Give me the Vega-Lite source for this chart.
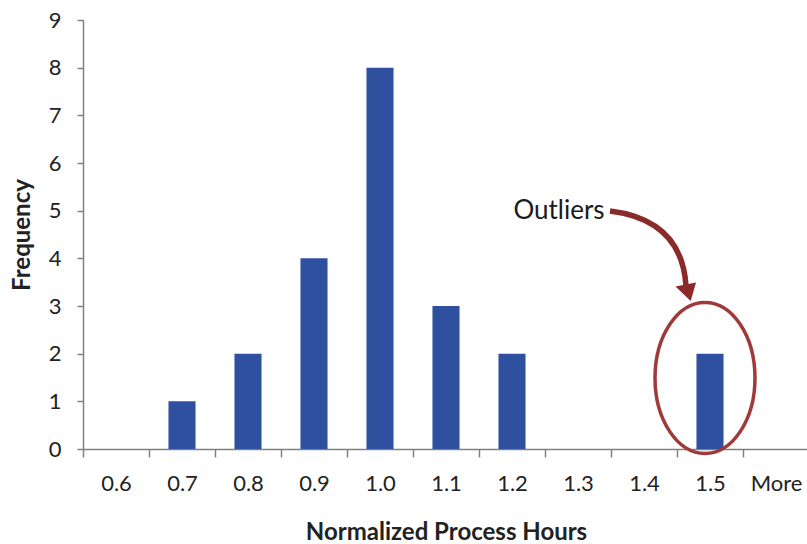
{
  "$schema": "https://vega.github.io/schema/vega-lite/v6.json",
  "width": 726,
  "height": 429,
  "autosize": "none",
  "padding": {"left": 83, "top": 20, "right": 0, "bottom": 95},
  "background": "white",
  "config": {"view": {"stroke": null}, "font": "Lato"},
  "datasets": {
    "bins": [
      {"bin": "0.6", "freq": 0},
      {"bin": "0.7", "freq": 1},
      {"bin": "0.8", "freq": 2},
      {"bin": "0.9", "freq": 4},
      {"bin": "1.0", "freq": 8},
      {"bin": "1.1", "freq": 3},
      {"bin": "1.2", "freq": 2},
      {"bin": "1.3", "freq": 0},
      {"bin": "1.4", "freq": 0},
      {"bin": "1.5", "freq": 2},
      {"bin": "More", "freq": 0}
    ],
    "ellipse": [{"bin": "1.5", "freq": 1.49}],
    "arrow": [{"bin": "1.4", "freq": 4.07}],
    "note": [{"bin": "1.3", "freq": 5.0, "label": "Outliers"}]
  },
  "layer": [
    {
      "data": {"name": "bins"},
      "mark": {"type": "bar", "color": "#2F4F9F", "width": {"band": 0.41}},
      "encoding": {
        "x": {
          "field": "bin", "type": "ordinal",
          "scale": {"domain": ["0.6","0.7","0.8","0.9","1.0","1.1","1.2","1.3","1.4","1.5","More"], "paddingInner": 0, "paddingOuter": 0},
          "axis": {
            "title": "Normalized Process Hours", "labelAngle": 0, "tickBand": "extent",
            "tickSize": 8, "labelPadding": 16, "labelFontSize": 22, "labelColor": "#222222",
            "titleFontSize": 24, "titleFontWeight": "bold", "titleColor": "#222222", "titlePadding": 26,
            "domainColor": "#808080", "tickColor": "#808080", "domainWidth": 1.5, "tickWidth": 1.5
          }
        },
        "y": {
          "field": "freq", "type": "quantitative",
          "scale": {"domain": [0, 9], "nice": false},
          "axis": {
            "title": "Frequency", "values": [0,1,2,3,4,5,6,7,8,9], "grid": false,
            "tickSize": 6, "labelPadding": 16, "labelFontSize": 22, "labelColor": "#222222",
            "titleFontSize": 24, "titleFontWeight": "bold", "titleColor": "#222222", "titlePadding": 14,
            "domainColor": "#808080", "tickColor": "#808080", "domainWidth": 1.5, "tickWidth": 1.5
          }
        }
      }
    },
    {
      "data": {"name": "ellipse"},
      "mark": {
        "type": "point",
        "shape": "M0,-1C0.3656,-1,0.662,-0.5523,0.662,0C0.662,0.5523,0.3656,1,0,1C-0.3656,1,-0.662,0.5523,-0.662,0C-0.662,-0.5523,-0.3656,-1,0,-1Z",
        "size": 22801, "filled": false, "stroke": "#A03A3A", "strokeWidth": 3.5, "opacity": 1, "strokeOpacity": 1, "xOffset": -5
      },
      "encoding": {
        "x": {"field": "bin", "type": "ordinal"},
        "y": {"field": "freq", "type": "quantitative"}
      }
    },
    {
      "data": {"name": "arrow"},
      "mark": {
        "type": "point",
        "shape": "M-0.78,-0.88Q0.66,-0.7,0.74,0.62",
        "size": 10000, "filled": false, "stroke": "#8B2A2A", "strokeWidth": 5.5, "opacity": 1, "strokeOpacity": 1, "xOffset": 5
      },
      "encoding": {
        "x": {"field": "bin", "type": "ordinal"},
        "y": {"field": "freq", "type": "quantitative"}
      }
    },
    {
      "data": {"name": "arrow"},
      "mark": {
        "type": "point",
        "shape": "M0.834,0.92L0.53,0.63L0.94,0.55Z",
        "size": 10000, "filled": true, "fill": "#8B2A2A", "opacity": 1, "strokeWidth": 0, "xOffset": 5
      },
      "encoding": {
        "x": {"field": "bin", "type": "ordinal"},
        "y": {"field": "freq", "type": "quantitative"}
      }
    },
    {
      "data": {"name": "note"},
      "mark": {"type": "text", "fontSize": 26, "color": "#1a1a1a", "align": "center", "baseline": "middle", "dx": -19},
      "encoding": {
        "x": {"field": "bin", "type": "ordinal"},
        "y": {"field": "freq", "type": "quantitative"},
        "text": {"field": "label"}
      }
    }
  ]
}
